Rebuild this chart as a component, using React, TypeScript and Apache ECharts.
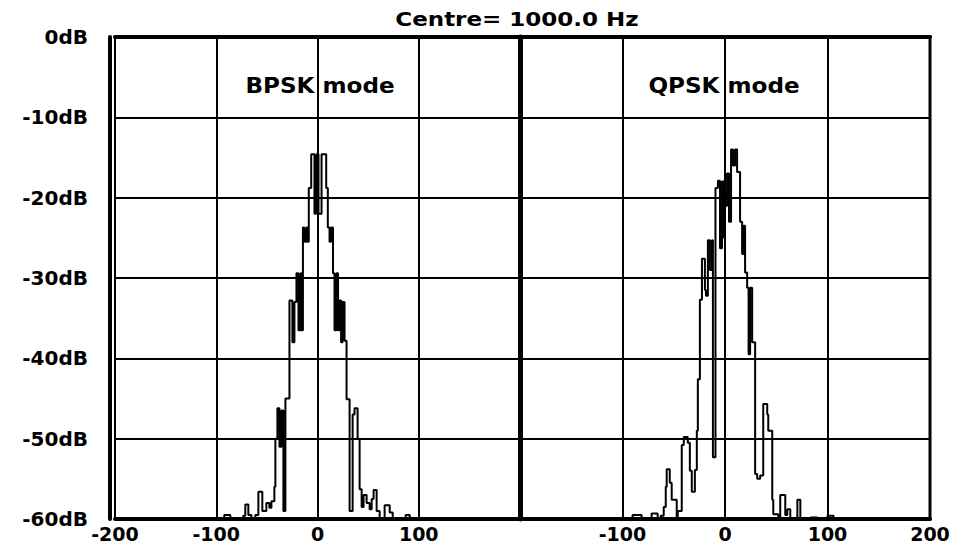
import React, { useEffect, useRef } from "react";
import * as echarts from "echarts";

const xTicksInterval = 100;
const dbTicksInterval = 10;

const bpskFreq = [-200, -92.1, -86.1, -73.3, -71.3, -68.3, -65.3, -61.4, -58.4, -54.5, -50.5, -47.5, -45.5, -42.6, -41.6, -39.6, -37.6, -35.6, -33.7, -31.7, -27.7, -24.8, -22.8, -20.8, -18.8, -16.8, -15.8, -14.4, -12.9, -10.9, -9.9, -8.6, -6.2, -3, -1, 1, 4, 8.6, 10.2, 11.9, 13.4, 15.3, 16.8, 18.8, 20.3, 21.8, 23.3, 24.8, 26.7, 28.7, 31.7, 34.7, 36.6, 39.6, 41.6, 43.6, 45.5, 48.5, 51.5, 53.5, 55.4, 58.4, 61.4, 66.3, 71.3, 74.3, 87.1, 91.1, 200];
const bpskDb = [-60, -59.5, -60, -59.6, -58.2, -59.5, -60, -59.5, -56.6, -59, -58, -58.6, -57.8, -56, -50, -46.2, -51, -46.5, -59, -45, -32.8, -38, -33, -29.4, -36.5, -29.4, -36.5, -23.7, -25.5, -23.7, -25.5, -18.8, -14.6, -22, -14.6, -22, -14.6, -18.8, -23.7, -25.5, -23.7, -29.4, -36.5, -29.4, -36.5, -32.8, -38, -33, -37.8, -45.1, -59, -47, -46.2, -50, -56.3, -58.5, -57, -58, -58.8, -57.5, -56.4, -59, -60, -58.3, -59.2, -60, -59.5, -60, -60];

const qpskFreq = [-200, -90.2, -81.4, -71.6, -65.7, -62.7, -59.8, -57.8, -56.9, -53.9, -52, -47.1, -46.1, -42.2, -40.2, -36.3, -34.3, -32.4, -29.4, -27.5, -26.5, -24.5, -22.5, -19.6, -18.6, -16.7, -14.7, -12.7, -11.8, -9.3, -6.9, -4.9, -2.9, -1, 0, 2, 3.9, 5.9, 7.8, 9.8, 11.8, 14.7, 16.7, 18.1, 19.6, 21.6, 23, 24.5, 26.5, 29.4, 31.4, 34.3, 37.3, 41.2, 42.2, 46.1, 47.1, 52, 53.9, 58.8, 60.8, 63.7, 70.6, 73.5, 83.3, 90.2, 100, 105.9, 200];
const qpskDb = [-60, -59.5, -60, -59.3, -60, -59.6, -58.5, -56, -53.8, -55.5, -57.6, -60, -59, -50.8, -49.8, -50.5, -54, -56.6, -53.9, -49, -42.6, -32.7, -27.6, -31.5, -32.2, -25.3, -29, -25.3, -52.3, -18.8, -17.9, -26.3, -18, -25, -21, -17, -23, -14, -16, -14, -16.8, -23, -27, -23.5, -29.3, -31.2, -39.5, -31.2, -38, -54.4, -55, -54.6, -45.7, -47, -49, -57.6, -59.4, -60, -57, -59.5, -58.8, -60, -57.6, -60, -59.8, -60, -59.6, -60, -60];

const titleText = "Centre= 1000.0 Hz";
const leftLabel = "BPSK mode";
const rightLabel = "QPSK mode";

const FONT = '"DejaVu Sans"';

function zip(xs: number[], ys: number[]) {
  return xs.map((x, i) => [x, ys[i]]);
}

function textEl(text: string, x: number, y: number, size: number, sx: number) {
  return {
    type: "text",
    x,
    y,
    scaleX: sx,
    z: 100,
    style: {
      text,
      fill: "#000",
      font: `bold ${size}px ${FONT}`,
      textAlign: "center",
      textVerticalAlign: "middle",
      align: "center",
      verticalAlign: "middle",
    },
  };
}

export default function App() {
  const ref = useRef<HTMLDivElement>(null);
  useEffect(() => {
    document.body.style.margin = "0";
    const chart = echarts.init(ref.current!, null, { renderer: "svg" });
    const axisLabelStyle = {
      color: "#000",
      fontFamily: FONT,
      fontWeight: "bold" as const,
      fontSize: 19,
      lineHeight: 16,
    };
    const xBase = (grid: number, showMin: boolean, showMax: boolean) => ({
      type: "value",
      gridIndex: grid,
      min: -200,
      max: 200,
      interval: xTicksInterval,
      position: "bottom",
      axisLine: { show: true, onZero: false, lineStyle: { color: "#000", width: 4 } },
      axisTick: { show: false },
      splitLine: { show: true, lineStyle: { color: "#000", width: 2 } },
      axisLabel: { ...axisLabelStyle, margin: 7, showMinLabel: showMin, showMaxLabel: showMax },
    });
    const xTop = (grid: number) => ({
      type: "value",
      gridIndex: grid,
      min: -200,
      max: 200,
      position: "top",
      axisLine: { show: true, onZero: false, lineStyle: { color: "#000", width: 4 } },
      axisTick: { show: false },
      splitLine: { show: false },
      axisLabel: { show: false },
    });
    const option = {
      animation: false,
      backgroundColor: "#fff",
      grid: [
        { left: 115, top: 37, width: 405, height: 482, show: true, borderColor: "#000", borderWidth: 2, backgroundColor: "#fff" },
        { left: 520, top: 37, width: 410, height: 482, show: true, borderColor: "#000", borderWidth: 3, backgroundColor: "#fff" },
      ],
      xAxis: [xBase(0, true, false), xBase(1, false, true), xTop(0), xTop(1)],
      yAxis: [
        {
          type: "value",
          gridIndex: 0,
          min: -60,
          max: 0,
          interval: dbTicksInterval,
          offset: 5,
          axisLine: { show: true, onZero: false, lineStyle: { color: "#000", width: 4 } },
          axisTick: { show: false },
          splitLine: { show: true, lineStyle: { color: "#000", width: 2 } },
          axisLabel: { ...axisLabelStyle, fontSize: 20, margin: 22, formatter: (v: number) => `${v}dB` },
        },
        {
          type: "value",
          gridIndex: 1,
          min: -60,
          max: 0,
          interval: dbTicksInterval,
          axisLine: { show: true, onZero: false, lineStyle: { color: "#000", width: 5 } },
          axisTick: { show: false },
          splitLine: { show: true, lineStyle: { color: "#000", width: 2 } },
          axisLabel: { show: false },
        },
      ],
      series: [
        {
          type: "line",
          xAxisIndex: 0,
          yAxisIndex: 0,
          step: "end",
          showSymbol: false,
          symbol: "none",
          lineStyle: { color: "#000", width: 2 },
          data: zip(bpskFreq, bpskDb),
          z: 5,
        },
        {
          type: "line",
          xAxisIndex: 1,
          yAxisIndex: 1,
          step: "end",
          showSymbol: false,
          symbol: "none",
          lineStyle: { color: "#000", width: 2 },
          data: zip(qpskFreq, qpskDb),
          z: 5,
        },
      ],
      graphic: [
        textEl(titleText, 517, 19, 20, 1.15),
        textEl(leftLabel, 320, 86, 21, 1.1),
        textEl(rightLabel, 724, 86, 21, 1.1),
      ],
    };
    chart.setOption(option as any);
    return () => chart.dispose();
  }, []);
  return <div ref={ref} style={{ width: 953, height: 546 }} />;
}
